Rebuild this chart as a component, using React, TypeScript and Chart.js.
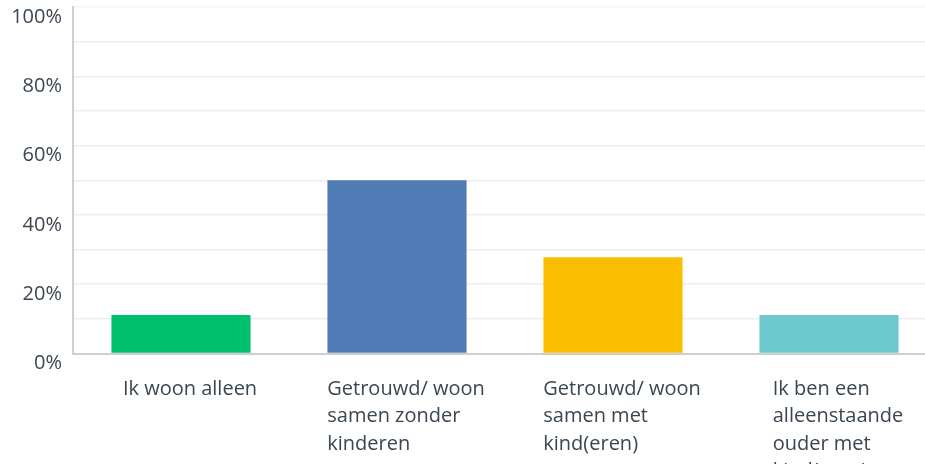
import React, { useEffect, useRef } from "react";
import { Chart, registerables } from "chart.js";

Chart.register(...registerables);

const categories: string[][] = [
  ["Ik woon alleen"],
  ["Getrouwd/ woon", "samen zonder", "kinderen"],
  ["Getrouwd/ woon", "samen met", "kind(eren)"],
  ["Ik ben een", "alleenstaande", "ouder met", "kind(eren)"],
];
const values: number[] = [11.11, 50, 27.78, 11.11];
const barColors: string[] = ["#00BF6F", "#507CB6", "#F9BE00", "#6BC8CD"];
const yTicks: number[] = [0, 20, 40, 60, 80, 100];

const FONT = "'Open Sans', sans-serif";
const TEXT_COLOR = "#3b4651";

export default function App() {
  const ref = useRef<HTMLCanvasElement | null>(null);

  useEffect(() => {
    if (!ref.current) return;
    const labelPlugin = {
      id: "catLabels",
      afterDraw(chart: any) {
        const ctx = chart.ctx;
        const xs = chart.scales.x;
        ctx.save();
        ctx.font = `20px ${FONT}`;
        ctx.fillStyle = TEXT_COLOR;
        ctx.textAlign = "left";
        ctx.textBaseline = "alphabetic";
        categories.forEach((lines, i) => {
          const cx = xs.getPixelForValue(i);
          const w = Math.max(...lines.map((l) => ctx.measureText(l).width));
          const x0 = cx + 9 - w / 2;
          lines.forEach((l, j) => {
            ctx.fillText(l, x0, chart.chartArea.bottom + 41.5 + j * 27.3);
          });
        });
        ctx.restore();
      },
    };
    const chart = new Chart(ref.current, {
      type: "bar",
      data: {
        labels: categories.map((c) => c.join(" ")),
        datasets: [
          {
            data: values,
            backgroundColor: barColors,
            borderWidth: 0,
            barPercentage: 0.644,
            categoryPercentage: 1,
          },
        ],
      },
      options: {
        responsive: false,
        animation: false,
        layout: { padding: { left: 0, right: 23, top: 7, bottom: 0 } },
        plugins: {
          legend: { display: false },
          tooltip: { enabled: false },
        },
        scales: {
          x: {
            grid: { display: false, drawTicks: false },
            border: { color: "#cfcfcf", width: 2 },
            ticks: { display: false },
            afterFit: (s: any) => {
              s.height = 126.5;
              s.paddingLeft = 0;
              s.paddingRight = 0;
            },
          },
          y: {
            min: 0,
            max: 100,
            afterBuildTicks: (s: any) => {
              const t: any[] = [];
              for (let v = 0; v <= 100; v += 10) t.push({ value: v });
              s.ticks = t;
            },
            grid: {
              color: (c: any) => (c.tick && c.tick.value === 100 ? "#f6f6f6" : "#eeeeee"),
              lineWidth: 1.5,
              drawTicks: false,
            },
            border: { color: "#cfcfcf", width: 2 },
            ticks: {
              padding: 11,
              labelOffset: 10,
              color: TEXT_COLOR,
              font: { family: FONT, size: 20 },
              callback: (v: any) => (yTicks.includes(Number(v)) ? `${v}%` : ""),
              autoSkip: false,
            },
            afterFit: (s: any) => {
              s.width = 73;
              s.paddingTop = 0;
              s.paddingBottom = 0;
            },
          },
        },
      },
      plugins: [labelPlugin],
    });
    return () => chart.destroy();
  }, []);

  return (
    <div
      style={{
        position: "fixed",
        left: 0,
        top: 0,
        width: 925,
        height: 464,
        overflow: "hidden",
        background: "#fff",
      }}
    >
      <canvas ref={ref} width={960} height={480} style={{ display: "block" }} />
    </div>
  );
}
